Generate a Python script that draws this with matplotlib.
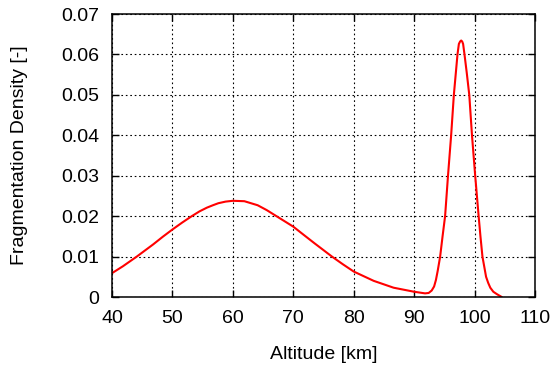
import matplotlib
matplotlib.use("Agg")
import matplotlib.pyplot as plt

altitude = [40, 41.8, 44.1, 46.8, 48.4, 50, 51.6, 53.2, 54.5, 55.7, 56.7, 57.6, 58.8, 60, 61.9,
            64.1, 65.6, 67.1, 68.5, 70, 71.7, 73.5, 76.4, 78.2, 80, 83.3, 86.6,
            90, 91.8, 92.4, 92.9, 93.3, 93.6, 93.9, 94.3, 94.7, 95.12, 95.6,
            96.12, 96.57, 97.17, 97.4, 97.6, 97.78, 97.95, 98.1, 98.33, 98.7, 99.12,
            99.57, 100.1, 100.67, 100.97, 101.3, 101.9, 102.25, 102.6, 103.1,
            103.7, 104.5]
density = [0.0059, 0.0076, 0.0100, 0.0130, 0.0149, 0.0167, 0.0184, 0.0200, 0.0212, 0.0221,
           0.0227, 0.0232, 0.0236, 0.0238, 0.0237, 0.0227, 0.0215, 0.0201, 0.0188, 0.0174,
           0.0154, 0.0133, 0.0100, 0.0081, 0.0063, 0.0040, 0.0023, 0.0013, 0.0009,
           0.0010, 0.0016, 0.0026, 0.0042, 0.0065, 0.0100, 0.0150, 0.0200, 0.0300,
           0.0400, 0.0500, 0.0600, 0.0626, 0.0632, 0.06345, 0.0632, 0.0626, 0.0600, 0.0555,
           0.0500, 0.0400, 0.0300, 0.0200, 0.0150, 0.0100, 0.0050, 0.0035, 0.0023,
           0.0013, 0.0007, 0.0]

xticks = [40, 50, 60, 70, 80, 90, 100, 110]
yticks = [0, 0.01, 0.02, 0.03, 0.04, 0.05, 0.06, 0.07]
ytick_labels = ["0", "0.01", "0.02", "0.03", "0.04", "0.05", "0.06", "0.07"]

plt.rcParams['font.family'] = ['Liberation Sans', 'DejaVu Sans']

fig = plt.figure(figsize=(5.55, 3.69), dpi=100)
ax = fig.add_axes([0.2018, 0.1951, 0.964 - 0.2018, 0.962 - 0.1951])

ax.plot(altitude, density, color='#ff0000', lw=1.5,
        solid_joinstyle='round', solid_capstyle='round')

ax.set_xlim(40, 110)
ax.set_ylim(0, 0.07)
ax.set_xticks(xticks)
ax.set_yticks(yticks)
ax.set_yticklabels(ytick_labels)

ax.grid(True, color='black', linestyle=(0, (1.5, 2.5)), lw=0.8)
ax.tick_params(direction='in', length=5, width=1, top=True, right=True,
               labelsize=14, color='black')
ax.tick_params(axis='y', pad=9)
ax.tick_params(axis='x', pad=9)
for s in ax.spines.values():
    s.set_linewidth(1.1)
    s.set_color('black')

ax.set_xlabel("Altitude [km]", fontsize=14, labelpad=14)
ax.set_ylabel("Fragmentation Density [-]", fontsize=14, labelpad=24)

fig.savefig("out.png", dpi=100)
